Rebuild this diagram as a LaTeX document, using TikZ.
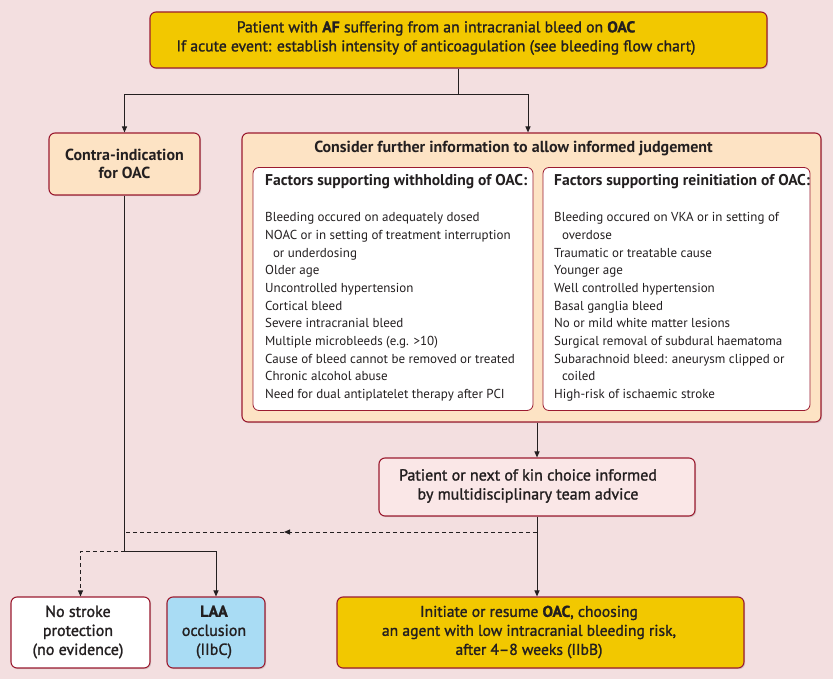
\documentclass[tikz,border=0pt]{standalone}
\usepackage{fontspec}
\setmainfont{PT Sans}
\newfontfamily\semi[FakeBold=1.4]{PT Sans}
\usetikzlibrary{arrows.meta,shadows}
\definecolor{bg}{HTML}{F3DFE0}
\definecolor{bord}{HTML}{9B1B30}
\definecolor{yel}{HTML}{F2C800}
\definecolor{peach}{HTML}{FDE3C4}
\definecolor{pinkf}{HTML}{FAE7E7}
\definecolor{lblue}{HTML}{A9DCF4}
\definecolor{txt}{HTML}{231F20}
\tikzset{
  box/.style={draw=bord, line width=1.1pt, rounded corners=6pt, align=center, text=txt, inner sep=0pt,
    drop shadow={shadow xshift=1.2pt, shadow yshift=-1.2pt, opacity=0.25}},
  inbox/.style={draw=bord, line width=0.8pt, rounded corners=6pt, fill=white, inner sep=0pt},
  conn/.style={draw=txt, line width=1pt},
  tri/.style={-{Triangle[width=5pt,length=6pt]}},
  hdr/.style={font=\fontsize{15.6}{18}\selectfont\bfseries, text=txt, inner sep=0pt},
  lst/.style={font=\fontsize{13}{17.65}\selectfont, text=txt, align=left, inner sep=0pt, anchor=north west},
  mid/.style={font=\fontsize{16}{19}\selectfont\semi, text=txt, align=center, inner sep=0pt},
}
\begin{document}
\begin{tikzpicture}[x=1pt,y=-1pt]
\useasboundingbox[fill=bg] (0,0) rectangle (833,679);
% top box
\node[box, fill=yel, minimum width=617pt, minimum height=56pt] (top) at (458.5,40) {};
\node[mid, font=\fontsize{15.7}{19}\selectfont\semi] (toptxt) at (436,38)
 {Patient with \textbf{AF} suffering from an intracranial bleed on \textbf{OAC}\\If acute event: establish intensity of anticoagulation (see bleeding flow chart)};
% contra
\node[box, fill=peach, minimum width=151pt, minimum height=62pt, font=\fontsize{16}{18}\selectfont\bfseries] (contra) at (124.5,164)
 {Contra-indication\\for OAC};
% consider
\node[box, fill=peach, minimum width=579pt, minimum height=289pt] (consider) at (531.5,277.5) {};
\node[hdr, font=\fontsize{16}{18}\selectfont\bfseries] (cons) at (513.5,148) {Consider further information to allow informed judgement};
\node[inbox, minimum width=280pt, minimum height=243pt] (lbox) at (393,289) {};
\node[inbox, minimum width=267pt, minimum height=243pt] (rbox) at (676.5,289) {};
\node[hdr, anchor=west] (lh) at (265,182) {Factors supporting withholding of OAC:};
\node[hdr, anchor=west] (rh) at (554,182) {Factors supporting reinitiation of OAC:};
\node[lst] (ll) at (265,212.5) {Bleeding occured on adequately dosed\\
NOAC or in setting of treatment interruption\\
\hspace*{0.6em}or underdosing\\
Older age\\
Uncontrolled hypertension\\
Cortical bleed\\
Severe intracranial bleed\\
Multiple microbleeds (e.g. >10)\\
Cause of bleed cannot be removed or treated\\
Chronic alcohol abuse\\
Need for dual antiplatelet therapy after PCI};
\node[lst] (rl) at (554,212.5) {Bleeding occured on VKA or in setting of\\
\hspace*{0.6em}overdose\\
Traumatic or treatable cause\\
Younger age\\
Well controlled hypertension\\
Basal ganglia bleed\\
No or mild white matter lesions\\
Surgical removal of subdural haematoma\\
Subarachnoid bleed: aneurysm clipped or\\
\hspace*{0.6em}coiled\\
High-risk of ischaemic stroke};
% patient
\node[box, fill=pinkf, minimum width=316pt, minimum height=58pt] (patient) at (537,487) {};
\node[mid] (pattxt) at (528,486)
 {Patient or next of kin choice informed\\by multidisciplinary team advice};
% bottom boxes
\node[box, fill=white, minimum width=139pt, minimum height=71pt] (nostroke) at (80.5,632.5) {};
\node[mid] (nstxt) at (78,632) {No stroke\\protection\\(no evidence)};
\node[box, fill=lblue, minimum width=98pt, minimum height=71pt] (laa) at (216,632.5) {};
\node[mid] (laatxt) at (214,632) {\textbf{LAA}\\occlusion\\(IIbC)};
\node[box, fill=yel, minimum width=407pt, minimum height=71pt] (oac) at (540.5,632.5) {};
\node[mid, font=\fontsize{15.6}{19}\selectfont\semi] (oactxt) at (529,632)
 {Initiate or resume \textbf{OAC}, choosing\\an agent with low intracranial bleeding risk,\\after 4–8 weeks (IIbB)};
% connectors
\coordinate (j1) at (458,95);
\coordinate (j2) at (124.5,551);
\coordinate (dA) at (537,532);
\coordinate (dm) at (284,532);
\coordinate (dB) at (124.5,532);
\draw[conn] (top.south -| j1) -- (j1);
\draw[conn,tri] (j1) -| (contra.north);
\draw[conn,tri] (j1) -| ([xshift=-3.5pt]consider.north);
\draw[conn,tri] (consider.south -| patient.north) -- (patient.north);
\draw[conn,tri] (patient.south) -- (oac.north -| patient.south);
\draw[conn] (contra.south) -- (j2);
\draw[conn,tri] (j2) -| (laa.north);
\draw[conn,dashed,dash pattern=on 4pt off 3pt,tri] (dA) -- (dm);
\draw[conn,dashed,dash pattern=on 4pt off 3pt] (dm) -- (dB);
\draw[conn,dashed,dash pattern=on 4pt off 3pt,tri] (j2) -| (nostroke.north);
\end{tikzpicture}
\end{document}
